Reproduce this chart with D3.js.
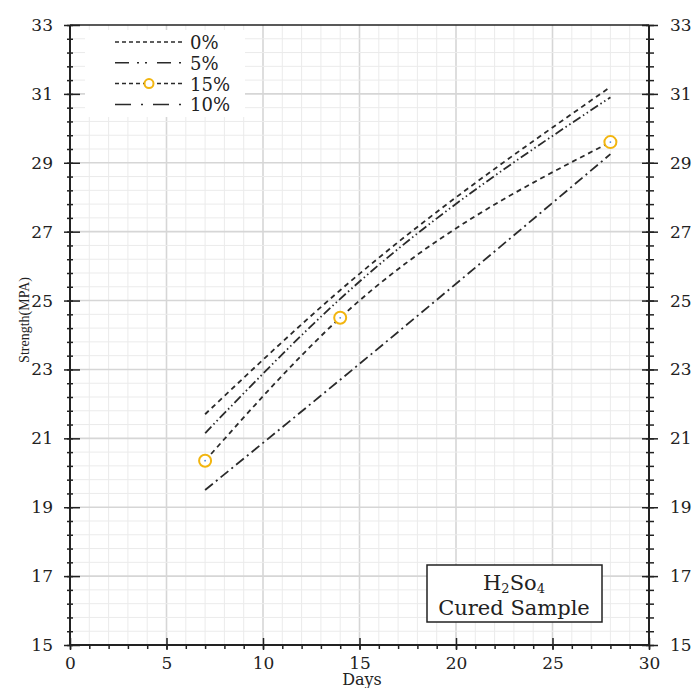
<!DOCTYPE html>
<html>
<head>
<meta charset="utf-8">
<script src="https://cdn.jsdelivr.net/npm/d3@7"></script>
<style>
  html, body { margin: 0; padding: 0; background: #fff; }
  svg { display: block; font-family: "DejaVu Serif", "Liberation Serif", serif; }
</style>
</head>
<body>
<div id="chart"></div>
<script>
/* =========================
   DATA
========================= */
const days = [7, 14, 28];
const series0 = [21.7, 25.3, 31.2];
const series5 = [21.15, 25.05, 30.9];
const series15 = [20.35, 24.5, 29.6];
const series10 = [19.5, 22.7, 29.25];

const legendLabels = ['0%', '5%', '15%', '10%'];
const xTicks = [0, 5, 10, 15, 20, 25, 30];
const yTicks = [15, 17, 19, 21, 23, 25, 27, 29, 31, 33];

/* =========================
   SETUP
========================= */
const width = 696;
const height = 688;
const ink = '#222';
const tickFont = '"DejaVu Serif", serif';

const svg = d3.select('#chart')
  .append('svg')
  .attr('width', width)
  .attr('height', height);

const xScale = d3.scaleLinear().domain([0, 30]).range([70, 649]);
const yScale = d3.scaleLinear().domain([15, 33]).range([645, 25]);

/* =========================
   GRID
========================= */
const grid = svg.append('g').attr('class', 'grid');

const vLines = d3.range(1, 30);
grid.selectAll('line.v')
  .data(vLines)
  .join('line')
  .attr('class', 'v')
  .attr('x1', d => xScale(d)).attr('x2', d => xScale(d))
  .attr('y1', yScale(33)).attr('y2', yScale(15))
  .attr('stroke', d => d % 5 === 0 ? '#d6d6d6' : '#ebebeb')
  .attr('stroke-width', d => d % 5 === 0 ? 1.6 : 1);

// horizontal grid every 0.4, heavier on the labelled values
const hSteps = d3.range(1, 45);
const isMajorStep = i => i % 5 === 0;
grid.selectAll('line.h')
  .data(hSteps)
  .join('line')
  .attr('class', 'h')
  .attr('y1', i => yScale(15 + i * 0.4)).attr('y2', i => yScale(15 + i * 0.4))
  .attr('x1', xScale(0)).attr('x2', xScale(30))
  .attr('stroke', i => isMajorStep(i) ? '#d6d6d6' : '#ebebeb')
  .attr('stroke-width', i => isMajorStep(i) ? 1.6 : 1);

/* legend sits on a white patch over the grid */
svg.append('rect')
  .attr('x', 85).attr('y', 30)
  .attr('width', 160).attr('height', 87)
  .attr('fill', '#fff');

/* =========================
   AXES
========================= */
const minorY = d3.range(0, 46).map(i => 15 + i * 0.4);
const minorX = d3.range(0, 31);

// left axis
const left = svg.append('g')
  .attr('transform', `translate(${xScale(0)},0)`)
  .call(d3.axisLeft(yScale).tickValues(minorY).tickSize(3).tickFormat(''));
left.selectAll('.tick line').attr('x2', -3).attr('x1', 3).attr('stroke', ink).attr('stroke-width', 1.5);
left.select('.domain').remove();

svg.append('g')
  .attr('transform', `translate(${xScale(0)},0)`)
  .call(d3.axisLeft(yScale).tickValues(yTicks).tickSize(6).tickFormat(d => d))
  .call(g => g.select('.domain').remove())
  .call(g => g.selectAll('.tick line').attr('x1', 10).attr('x2', -6).attr('stroke', ink).attr('stroke-width', 1.5))
  .call(g => g.selectAll('.tick text').attr('x', -17).attr('font-size', 17).attr('fill', ink)
    .attr('font-family', tickFont));

// right axis
const right = svg.append('g')
  .attr('transform', `translate(${xScale(30)},0)`)
  .call(d3.axisRight(yScale).tickValues(minorY).tickSize(3).tickFormat(''));
right.selectAll('.tick line').attr('x1', -3).attr('x2', 5).attr('stroke', ink).attr('stroke-width', 1.5);
right.select('.domain').remove();

svg.append('g')
  .attr('transform', `translate(${xScale(30)},0)`)
  .call(d3.axisRight(yScale).tickValues(yTicks).tickSize(8).tickFormat(d => d))
  .call(g => g.select('.domain').remove())
  .call(g => g.selectAll('.tick line').attr('x1', -7).attr('x2', 9).attr('stroke', ink).attr('stroke-width', 1.5))
  .call(g => g.selectAll('.tick text').attr('x', 21).attr('font-size', 17).attr('fill', ink)
    .attr('font-family', tickFont));

// bottom axis
const bottom = svg.append('g')
  .attr('transform', `translate(0,${yScale(15)})`)
  .call(d3.axisBottom(xScale).tickValues(minorX).tickSize(4).tickFormat(''));
bottom.selectAll('.tick line').attr('stroke', ink).attr('stroke-width', 1.5);
bottom.select('.domain').remove();

svg.append('g')
  .attr('transform', `translate(0,${yScale(15)})`)
  .call(d3.axisBottom(xScale).tickValues(xTicks).tickSize(4).tickFormat(d => d))
  .call(g => g.select('.domain').remove())
  .call(g => g.selectAll('.tick line').attr('y1', -7).attr('y2', 5).attr('stroke', ink).attr('stroke-width', 1.5))
  .call(g => g.selectAll('.tick text').attr('y', 12).attr('dy', '0.71em').attr('font-size', 17).attr('fill', ink)
    .attr('font-family', tickFont));

// frame
const frame = svg.append('g').attr('stroke', ink).attr('fill', 'none');
frame.append('line')
  .attr('x1', xScale(0)).attr('x2', xScale(30))
  .attr('y1', yScale(33)).attr('y2', yScale(33))
  .attr('stroke-width', 1.5);
frame.append('line')
  .attr('x1', xScale(0)).attr('x2', xScale(30))
  .attr('y1', yScale(15)).attr('y2', yScale(15))
  .attr('stroke-width', 2);
frame.append('line')
  .attr('x1', xScale(0)).attr('x2', xScale(0))
  .attr('y1', yScale(33)).attr('y2', yScale(15))
  .attr('stroke-width', 2);
frame.append('line')
  .attr('x1', xScale(30)).attr('x2', xScale(30))
  .attr('y1', yScale(33)).attr('y2', yScale(15))
  .attr('stroke-width', 2);

/* axis titles */
svg.append('text')
  .attr('x', 362).attr('y', 685)
  .attr('text-anchor', 'middle')
  .attr('font-size', 16)
  .attr('fill', ink)
  .text('Days');

svg.append('text')
  .attr('transform', `translate(29,${320}) rotate(-90)`)
  .attr('text-anchor', 'middle')
  .attr('font-family', '"Liberation Serif", serif')
  .attr('font-size', 14)
  .attr('fill', ink)
  .text('Strength(MPA)');

/* =========================
   LINES
========================= */
const seriesList = [
  { values: series0, dash: '5,4' },
  { values: series5, dash: '9,3,1.5,3,1.5,3' },
  { values: series15, dash: '5,4' },
  { values: series10, dash: '10,4,2,4' },
];

const line = d3.line()
  .x(d => xScale(d[0]))
  .y(d => yScale(d[1]))
  .curve(d3.curveMonotoneX);

svg.append('g')
  .selectAll('path')
  .data(seriesList)
  .join('path')
  .attr('d', s => line(days.map((d, i) => [d, s.values[i]])))
  .attr('fill', 'none')
  .attr('stroke', '#2a2a2a')
  .attr('stroke-width', 1.8)
  .attr('stroke-dasharray', s => s.dash);

const markers = svg.append('g');
markers.selectAll('circle.m')
  .data(days.map((d, i) => [d, series15[i]]))
  .join('circle')
  .attr('class', 'm')
  .attr('cx', d => xScale(d[0]))
  .attr('cy', d => yScale(d[1]))
  .attr('r', 6)
  .attr('fill', '#fff')
  .attr('stroke', '#f2b50f')
  .attr('stroke-width', 2);
markers.selectAll('circle.c')
  .data(days.map((d, i) => [d, series15[i]]))
  .join('circle')
  .attr('class', 'c')
  .attr('cx', d => xScale(d[0]))
  .attr('cy', d => yScale(d[1]))
  .attr('r', 0.9)
  .attr('fill', '#4a86d8');

/* =========================
   LEGEND
========================= */
const legend = svg.append('g').attr('transform', 'translate(115,42)');
const legendDash = ['4,3', '14,8,2,6,2,10', '4,3', '16,10,2,10'];

legendLabels.forEach((label, i) => {
  const row = legend.append('g').attr('transform', `translate(0,${i * 20.8})`);
  row.append('line')
    .attr('x1', 0).attr('x2', 67)
    .attr('stroke', '#2a2a2a')
    .attr('stroke-width', 1.5)
    .attr('stroke-dasharray', legendDash[i]);
  if (label === '15%') {
    row.append('circle')
      .attr('cx', 34).attr('cy', 0).attr('r', 4.5)
      .attr('fill', '#fff')
      .attr('stroke', '#f2b50f')
      .attr('stroke-width', 2);
  }
  row.append('text')
    .attr('x', 75).attr('y', 7)
    .attr('font-size', 18)
    .attr('fill', ink)
    .text(label);
});

/* =========================
   NOTE BOX
========================= */
svg.append('rect')
  .attr('x', 427).attr('y', 565)
  .attr('width', 175).attr('height', 57)
  .attr('fill', '#fff')
  .attr('stroke', ink)
  .attr('stroke-width', 1.5);

const note = svg.append('text')
  .attr('x', 514).attr('y', 590)
  .attr('text-anchor', 'middle')
  .attr('font-size', 21)
  .attr('fill', ink);
note.append('tspan').text('H');
note.append('tspan').attr('font-size', 13).attr('dy', 3).text('2');
note.append('tspan').attr('dy', -3).text('So');
note.append('tspan').attr('font-size', 13).attr('dy', 3).text('4');

svg.append('text')
  .attr('x', 514).attr('y', 615)
  .attr('text-anchor', 'middle')
  .attr('font-size', 21)
  .attr('fill', ink)
  .text('Cured Sample');
</script>
</body>
</html>
